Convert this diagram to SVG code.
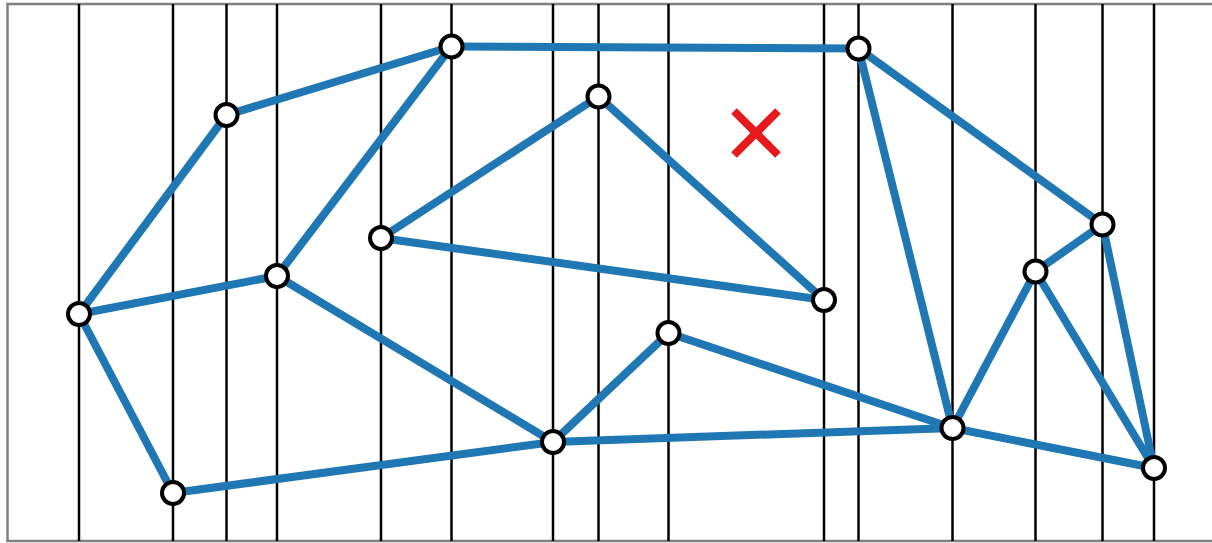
<svg xmlns="http://www.w3.org/2000/svg" width="1212" height="543" viewBox="0 0 1212 543">
<style>
.frame{fill:none;stroke:#808080;stroke-width:2.5}
.vl{stroke:#000;stroke-width:2.5}
.e{stroke:#1f77b4;stroke-width:8;stroke-linecap:round}
.n{fill:#fff;stroke:#000;stroke-width:4}
.x{stroke:#e41a1c;stroke-width:8}
</style>
<rect class="frame" x="7.5" y="4" width="1210" height="537"/>
<g id="lines">
<line class="vl" x1="79" y1="4" x2="79" y2="541"/>
<line class="vl" x1="173" y1="4" x2="173" y2="541"/>
<line class="vl" x1="226.5" y1="4" x2="226.5" y2="541"/>
<line class="vl" x1="277" y1="4" x2="277" y2="541"/>
<line class="vl" x1="381" y1="4" x2="381" y2="541"/>
<line class="vl" x1="451.5" y1="4" x2="451.5" y2="541"/>
<line class="vl" x1="553" y1="4" x2="553" y2="541"/>
<line class="vl" x1="598.5" y1="4" x2="598.5" y2="541"/>
<line class="vl" x1="668.5" y1="4" x2="668.5" y2="541"/>
<line class="vl" x1="824" y1="4" x2="824" y2="541"/>
<line class="vl" x1="858.5" y1="4" x2="858.5" y2="541"/>
<line class="vl" x1="952.5" y1="4" x2="952.5" y2="541"/>
<line class="vl" x1="1035.5" y1="4" x2="1035.5" y2="541"/>
<line class="vl" x1="1102.5" y1="4" x2="1102.5" y2="541"/>
<line class="vl" x1="1154" y1="4" x2="1154" y2="541"/>
</g>
<g id="connectors">
<line class="e" x1="79" y1="314" x2="226.5" y2="115"/>
<line class="e" x1="226.5" y1="115" x2="451.5" y2="46.5"/>
<line class="e" x1="451.5" y1="46.5" x2="858.5" y2="48.5"/>
<line class="e" x1="451.5" y1="46.5" x2="277" y2="276"/>
<line class="e" x1="277" y1="276" x2="79" y2="314"/>
<line class="e" x1="79" y1="314" x2="173" y2="493"/>
<line class="e" x1="173" y1="493" x2="553" y2="442"/>
<line class="e" x1="277" y1="276" x2="553" y2="442"/>
<line class="e" x1="553" y1="442" x2="668.5" y2="333"/>
<line class="e" x1="668.5" y1="333" x2="952.5" y2="428"/>
<line class="e" x1="553" y1="442" x2="952.5" y2="428"/>
<line class="e" x1="381" y1="238" x2="598.5" y2="96.5"/>
<line class="e" x1="598.5" y1="96.5" x2="824" y2="300"/>
<line class="e" x1="381" y1="238" x2="824" y2="300"/>
<line class="e" x1="858.5" y1="48.5" x2="952.5" y2="428"/>
<line class="e" x1="858.5" y1="48.5" x2="1102.5" y2="224.5"/>
<line class="e" x1="1102.5" y1="224.5" x2="1035.5" y2="271.5"/>
<line class="e" x1="1035.5" y1="271.5" x2="952.5" y2="428"/>
<line class="e" x1="952.5" y1="428" x2="1154" y2="468"/>
<line class="e" x1="1035.5" y1="271.5" x2="1154" y2="468"/>
<line class="e" x1="1102.5" y1="224.5" x2="1154" y2="468"/>
</g>
<g id="nA"><circle class="n" cx="79" cy="314" r="11"/></g>
<g id="nB"><circle class="n" cx="173" cy="493" r="11"/></g>
<g id="nC"><circle class="n" cx="226.5" cy="115" r="11"/></g>
<g id="nD"><circle class="n" cx="277" cy="276" r="11"/></g>
<g id="nE"><circle class="n" cx="381" cy="238" r="11"/></g>
<g id="nF"><circle class="n" cx="451.5" cy="46.5" r="11"/></g>
<g id="nG"><circle class="n" cx="553" cy="442" r="11"/></g>
<g id="nH"><circle class="n" cx="598.5" cy="96.5" r="11"/></g>
<g id="nI"><circle class="n" cx="668.5" cy="333" r="11"/></g>
<g id="nJ"><circle class="n" cx="824" cy="300" r="11"/></g>
<g id="nK"><circle class="n" cx="858.5" cy="48.5" r="11"/></g>
<g id="nL"><circle class="n" cx="952.5" cy="428" r="11"/></g>
<g id="nM"><circle class="n" cx="1035.5" cy="271.5" r="11"/></g>
<g id="nN"><circle class="n" cx="1102.5" cy="224.5" r="11"/></g>
<g id="nO"><circle class="n" cx="1154" cy="468" r="11"/></g>
<g id="marker">
<line class="x" x1="734" y1="111" x2="778" y2="155"/>
<line class="x" x1="778" y1="111" x2="734" y2="155"/>
</g>
</svg>
